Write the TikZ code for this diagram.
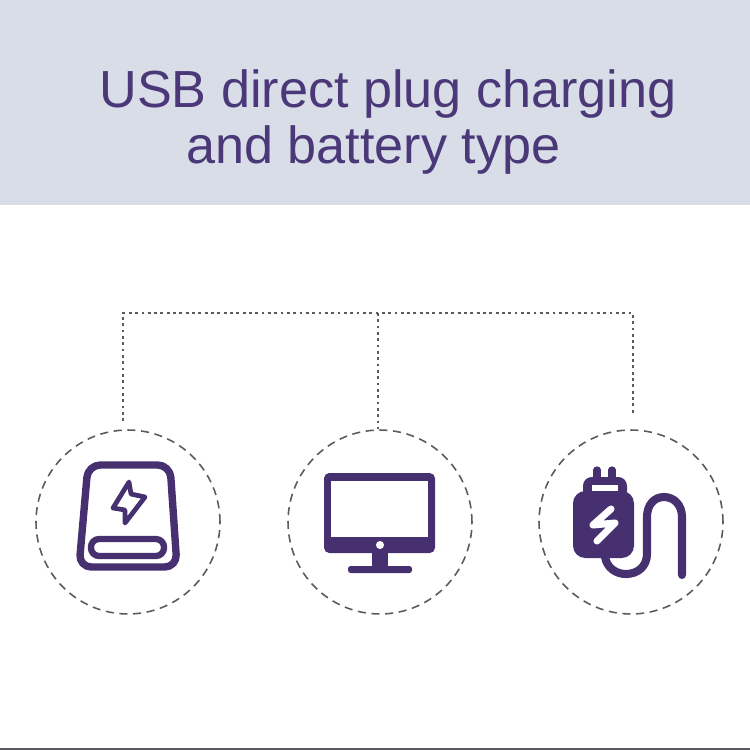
\documentclass[tikz,border=0pt]{standalone}
\usepackage{fontspec}
\setmainfont{Liberation Sans}
\usetikzlibrary{positioning}
\definecolor{bandcol}{HTML}{D9DDE8}
\definecolor{inkcol}{HTML}{4A3878}
\definecolor{iconcol}{HTML}{46306F}
\definecolor{dashcol}{HTML}{5A5A60}
\begin{document}
\begin{tikzpicture}[
    x=0.02cm, y=-0.02cm,
    title/.style={anchor=base, text=inkcol, font=\fontsize{29.7}{32}\selectfont, inner sep=0pt},
    ring/.style={circle, draw=dashcol, line width=0.9pt, dash pattern=on 4.6pt off 3.2pt, minimum size=3.68cm, inner sep=0pt},
    link/.style={draw=dashcol, line width=0.7pt, dash pattern=on 1.6pt off 2pt},
    outline/.style={draw=iconcol, line width=4.2pt, line join=round},
    filled/.style={fill=iconcol},
    cut/.style={fill=white},
    flash/.style={draw=white, line width=4pt, line cap=round, line join=round},
    prong/.style={draw=iconcol, line width=4.2pt, line cap=round},
    cable/.style={draw=iconcol, line width=4.6pt, line cap=round}
]

%% ── Page and header band ─────────────────────────────────────────────────────
\useasboundingbox (0,0) rectangle (750,750);
\fill[bandcol] (0,0) rectangle (750,205);
\fill[dashcol] (0,747.5) rectangle (750,750);
\node[title] (line1) at (388,108) {USB direct plug charging};
\node[title] (line2) at (373.5,163) {and battery type};

%% ── Dashed rings ─────────────────────────────────────────────────────────────
\node[ring] (bank)    at (128,522) {};
\node[ring] (monitor) at (380,522) {};
\node[ring] (charger) at (631,522) {};

%% ── Connector ends ───────────────────────────────────────────────────────────
\coordinate (bus_l) at (123,313);
\coordinate (bus_m) at (378,313);
\coordinate (bus_r) at (633,313);
\coordinate (end_l) at (123,421);
\coordinate (end_m) at (378,429);
\coordinate (end_r) at (633,415);

\draw[link] (end_l) -- (bus_l) -- (bus_r) -- (end_r);
\draw[link] (bus_m) -- (end_m);

%% ── Power bank icon ──────────────────────────────────────────────────────────
\draw[outline, rounded corners=7pt] (88,465) -- (170,465) -- (177,567) -- (79,567) -- cycle;
\draw[outline, line width=3.6pt, rounded corners=4.6pt] (91,539) rectangle (164,556);
\draw[outline, line width=2.7pt] (129,482) -- (113,508) -- (125,510) -- (125,523) -- (145,497) -- (131,494) -- cycle;

%% ── Monitor icon ─────────────────────────────────────────────────────────────
\fill[filled, rounded corners=3pt] (324,473) rectangle (435,553);
\fill[cut] (331,481) rectangle (428,537);
\fill[cut] (380,545) circle (4);
\fill[filled] (372,552) rectangle (388,566);
\fill[filled, rounded corners=1.5pt] (348,566) rectangle (412,573);

%% ── Charger icon ─────────────────────────────────────────────────────────────
\draw[prong] (597,470) -- (597,482);
\draw[prong] (612,470) -- (612,482);
\fill[filled, rounded corners=5pt] (583,477) rectangle (627,500);
\fill[filled, rounded corners=7pt] (573,491) rectangle (634,558);
\fill[cut] (592,485) rectangle (618,491);
\draw[flash] (611,509) -- (593,525) -- (615,523) -- (597,541);
\draw[cable] (605,557) .. controls (607,568) and (616,574) .. (626,574)
    .. controls (638,574) and (647,566) .. (647,554) -- (647,517)
    .. controls (647,505) and (654,497) .. (664,497)
    .. controls (674,497) and (682,505) .. (682,517) -- (682,575);

\end{tikzpicture}
\end{document}
